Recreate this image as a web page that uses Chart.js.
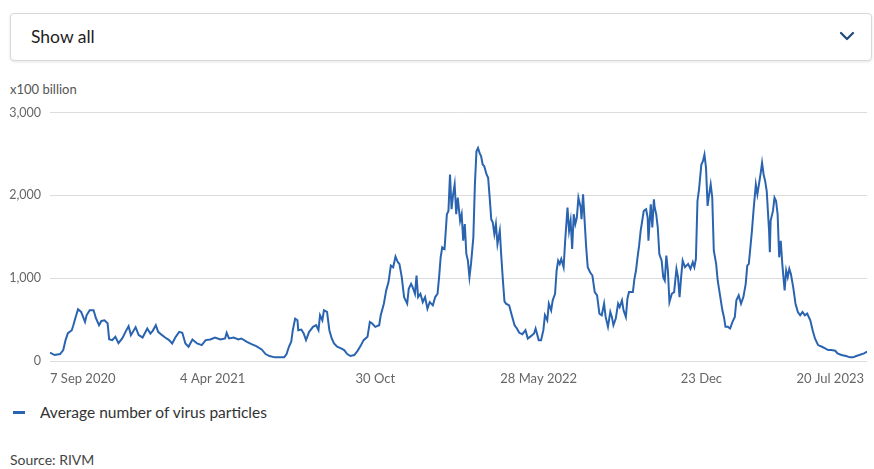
<!DOCTYPE html>
<html>
<head>
<meta charset="utf-8">
<script src="https://cdn.jsdelivr.net/npm/chart.js@4.4.1/dist/chart.umd.min.js"></script>
<style>
html,body{margin:0;padding:0;background:#fff;}
body{width:874px;height:469px;position:relative;overflow:hidden;font-family:Lato,"Noto Sans",sans-serif;}
#select{position:absolute;left:10px;top:13px;width:860px;height:46px;border:1px solid #d8d8d8;border-radius:4px;box-shadow:0 1px 3px rgba(0,0,0,0.10);background:#fff;}
#select span{position:absolute;left:20px;top:12px;font-size:17.5px;line-height:21px;color:#1e1e1e;}
#select svg{position:absolute;right:16px;top:17px;}
#unit{position:absolute;left:10px;top:82px;font-size:13px;line-height:15px;color:#555;}
#wrap{position:absolute;left:0;top:96px;width:874px;height:294px;}
#legend{position:absolute;left:13px;top:403px;font-size:15.5px;line-height:19px;color:#333;display:flex;align-items:center;}
#legend i{display:inline-block;width:12px;height:3px;background:#2a64b0;margin-right:15px;}
#source{position:absolute;left:10px;top:451px;font-size:14px;line-height:17px;color:#444;}
</style>
</head>
<body>
<div id="select"><span>Show all</span>
<svg width="16" height="10" viewBox="0 0 16 10"><polyline points="2,2 8,8 14,2" fill="none" stroke="#1f4a7a" stroke-width="2.2" stroke-linecap="round" stroke-linejoin="round"/></svg>
</div>
<div id="unit">x100 billion</div>
<div id="wrap"><canvas id="c" width="874" height="294"></canvas></div>
<div id="legend"><i></i><span>Average number of virus particles</span></div>
<div id="source">Source: RIVM</div>
<script>
// Days since 7 Sep 2020
const dayOffsets = [0,6,13,17,20,23,28,30,33,36,40,45,47,51,56,59,63,66,70,74,76,80,84,88,93,97,101,104,110,114,119,125,129,132,136,139,144,148,153,157,161,166,170,174,178,183,189,195,200,206,212,219,225,227,230,236,242,246,253,259,265,272,277,282,289,295,301,304,307,310,312,315,318,319,323,326,329,333,338,342,345,347,350,352,356,359,362,365,369,374,378,382,386,391,395,399,403,408,411,414,418,423,425,429,432,435,438,441,444,447,449,452,455,459,461,464,466,469,471,473,476,479,482,485,488,492,495,498,500,502,504,507,510,512,514,516,518,520,522,524,527,529,531,533,535,537,539,541,544,546,548,550,552,554,556,558,561,563,565,567,569,571,573,575,578,580,582,584,586,590,594,597,600,603,607,611,614,618,622,624,628,631,634,636,639,641,644,646,649,651,653,655,657,660,662,665,667,669,671,673,675,677,679,682,683,685,687,689,691,694,697,700,703,706,709,712,714,717,720,722,724,727,730,732,735,737,740,742,744,746,749,751,753,755,757,759,761,763,766,768,769,772,774,776,777,779,781,783,786,788,790,792,794,796,799,802,805,807,809,811,813,816,820,823,826,828,830,832,834,837,839,841,843,845,847,849,851,853,856,858,860,862,864,866,868,871,874,877,880,882,885,888,891,894,896,898,900,902,904,907,909,911,913,915,917,919,921,924,925,926,929,931,933,935,937,939,941,944,946,948,950,952,955,958,961,964,967,970,973,977,980,983,987,992,996,1000,1004,1009,1012,1017,1023,1028,1032,1036,1040,1046,1050];
// Average number of virus particles (x100 billion)
const particles = [100,72,84,132,252,336,372,432,532,624,592,472,552,612,612,516,432,484,492,456,264,252,292,216,276,352,420,312,408,312,284,392,332,364,432,352,312,284,252,212,284,352,340,212,172,260,212,192,252,260,284,260,272,340,272,284,260,272,232,204,180,140,84,60,44,44,44,84,172,232,372,512,492,372,380,332,252,352,412,432,372,552,492,612,592,372,272,212,172,152,132,84,60,72,120,180,252,292,472,452,412,432,552,692,852,952,1152,1132,1260,1192,1172,1012,772,692,872,932,892,812,1032,772,812,712,772,632,712,672,772,812,1012,1252,1372,1352,1772,1812,2252,1832,2012,2132,1772,1972,1692,1772,1452,1652,1292,1212,1012,1172,1492,2132,2532,2572,2512,2472,2372,2352,2252,2212,1972,1712,1672,1532,1652,1412,1572,1252,972,720,692,672,532,432,392,340,324,372,272,300,332,392,252,252,372,552,492,692,612,732,812,1092,1212,1172,1232,1132,1452,1852,1572,1692,1352,1772,1652,1732,1972,1852,1712,2012,1692,1372,1132,1072,1032,832,792,572,552,692,532,412,592,532,432,512,692,652,732,612,532,752,832,832,832,992,1092,1252,1392,1572,1692,1812,1832,1732,1452,1892,1612,1952,1852,1772,1612,1292,1212,1012,972,1272,1092,712,812,832,1112,1012,772,1012,1212,1132,1172,1112,1192,1132,1232,1932,2072,2372,2412,2492,2332,1872,2012,2132,1972,1332,1172,972,852,732,612,532,412,412,392,472,532,732,792,692,772,932,1152,1172,1372,1572,1812,2132,2012,2132,2252,2392,2252,2172,2052,1572,1312,1692,1812,1972,1932,1772,1252,1452,1172,852,1092,1012,1112,1052,892,692,592,552,592,552,572,492,372,272,192,172,152,132,132,124,92,72,60,44,44,60,72,92,112];
const tickDays = [0,209,418,628,837,1046];
const tickLabels = ['7 Sep 2020','4 Apr 2021','30 Oct','28 May 2022','23 Dec','20 Jul 2023'];
const yTicks = [0,1000,2000,3000];

const points = dayOffsets.map((d,i)=>({x:d,y:particles[i]}));

new Chart(document.getElementById('c'), {
  type:'line',
  data:{datasets:[{
    label:'Average number of virus particles',
    data:points,
    borderColor:'#2a64b0',
    borderWidth:2,
    pointRadius:0,
    tension:0,
    fill:false
  }]},
  options:{
    responsive:false,
    animation:false,
    layout:{padding:{top:8,right:0,left:0,bottom:0}},
    plugins:{legend:{display:false},tooltip:{enabled:false}},
    scales:{
      x:{
        type:'linear',min:0,max:1050,
        grid:{display:false,drawTicks:false},
        border:{display:false},
        afterBuildTicks:s=>{s.ticks=tickDays.map(v=>({value:v}));},
        ticks:{align:'inner',autoSkip:false,maxRotation:0,padding:10,color:'#666',
          font:{size:13,family:'Lato'},
          callback:v=>tickLabels[tickDays.indexOf(v)]},
        afterFit:s=>{s.height=29;}
      },
      y:{
        min:0,max:3000,
        afterBuildTicks:s=>{s.ticks=yTicks.map(v=>({value:v}));},
        grid:{color:'#dcdcdc',drawTicks:false},
        border:{display:false},
        ticks:{padding:9,color:'#666',font:{size:12.5,family:'Lato'},
          callback:v=>v.toLocaleString('en-US')},
        afterFit:s=>{s.width=50;}
      }
    }
  }
});
</script>
</body>
</html>
